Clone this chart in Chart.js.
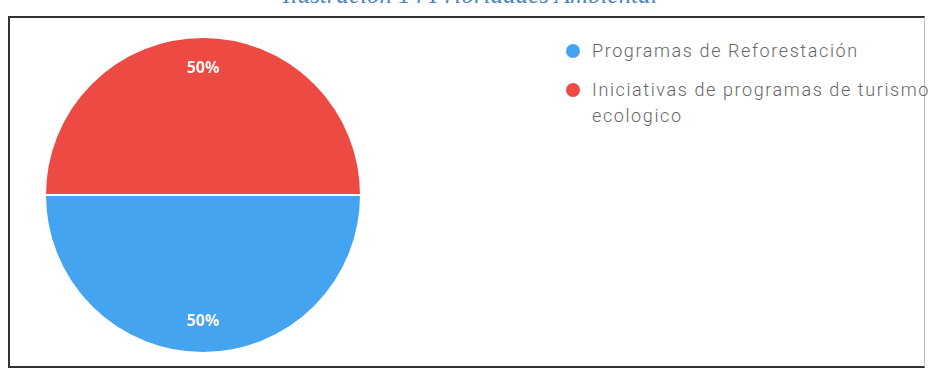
<!DOCTYPE html>
<html>
<head>
<meta charset="utf-8">
<script src="https://cdn.jsdelivr.net/npm/chart.js@4"></script>
<style>
  html, body { margin: 0; padding: 0; background: #fff; }
  body { width: 928px; height: 369px; position: relative; overflow: hidden; }
  #title { position: absolute; left: 0; width: 940px; top: -18px; text-align: center;
    font-family: "Liberation Serif", serif; font-style: italic; font-size: 25px; line-height: 25px; color: #4f86c0; }
  #frame { position: absolute; left: 8px; top: 16px; width: 914px; height: 348px; border: 2px solid #333; border-right-width: 1px; border-right-color: #bbb; }
  #pieBox { position: absolute; left: 44px; top: 36px; width: 318px; height: 318px; }
  #legend { position: absolute; left: 566px; top: 38px; font-family: Roboto, "Liberation Sans", sans-serif;
    font-size: 18px; font-weight: 300; letter-spacing: 1.6px; color: #666; }
  .item { position: relative; padding-left: 26px; line-height: 26px; margin-bottom: 13px; width: 360px; }
  .dot { position: absolute; left: 0; top: 6px; width: 14px; height: 14px; border-radius: 50%; }
</style>
</head>
<body>
<div id="title">Ilustración 14 Prioridades Ambiental</div>
<div id="frame"></div>
<div id="pieBox"><canvas id="c"></canvas></div>
<div id="legend"></div>
<script>
const categories = ['Programas de Reforestación', 'Iniciativas de programas de turismo ecologico'];
const values = [50, 50];
const colors = ['#45a4f0', '#ec4a42'];

// percent labels placed out towards the rim, like the original
const pctLabels = {
  id: 'pctLabels',
  afterDatasetsDraw(chart) {
    const ctx = chart.ctx;
    const total = values.reduce((a, b) => a + b, 0);
    chart.getDatasetMeta(0).data.forEach((arc, i) => {
      const mid = (arc.startAngle + arc.endAngle) / 2;
      const r = arc.outerRadius * 0.8;
      ctx.save();
      ctx.fillStyle = '#fbf6f2';
      ctx.font = 'bold 16px "Open Sans", sans-serif';
      ctx.textAlign = 'center';
      ctx.textBaseline = 'middle';
      ctx.fillText(Math.round(values[i] / total * 100) + '%', arc.x + Math.cos(mid) * r, arc.y + Math.sin(mid) * r);
      ctx.restore();
    });
  }
};

new Chart(document.getElementById('c'), {
  type: 'pie',
  data: {
    labels: categories,
    datasets: [{
      data: values,
      backgroundColor: colors,
      borderColor: '#fff',
      borderWidth: 2
    }]
  },
  options: {
    responsive: true,
    maintainAspectRatio: false,
    animation: false,
    rotation: 90,
    plugins: {
      legend: { display: false },
      tooltip: { enabled: false }
    }
  },
  plugins: [pctLabels]
});

const legend = document.getElementById('legend');
categories.forEach((name, i) => {
  const div = document.createElement('div');
  div.className = 'item';
  div.innerHTML = '<span class="dot" style="background:' + colors[i] + '"></span>' + name;
  legend.appendChild(div);
});
</script>
</body>
</html>
